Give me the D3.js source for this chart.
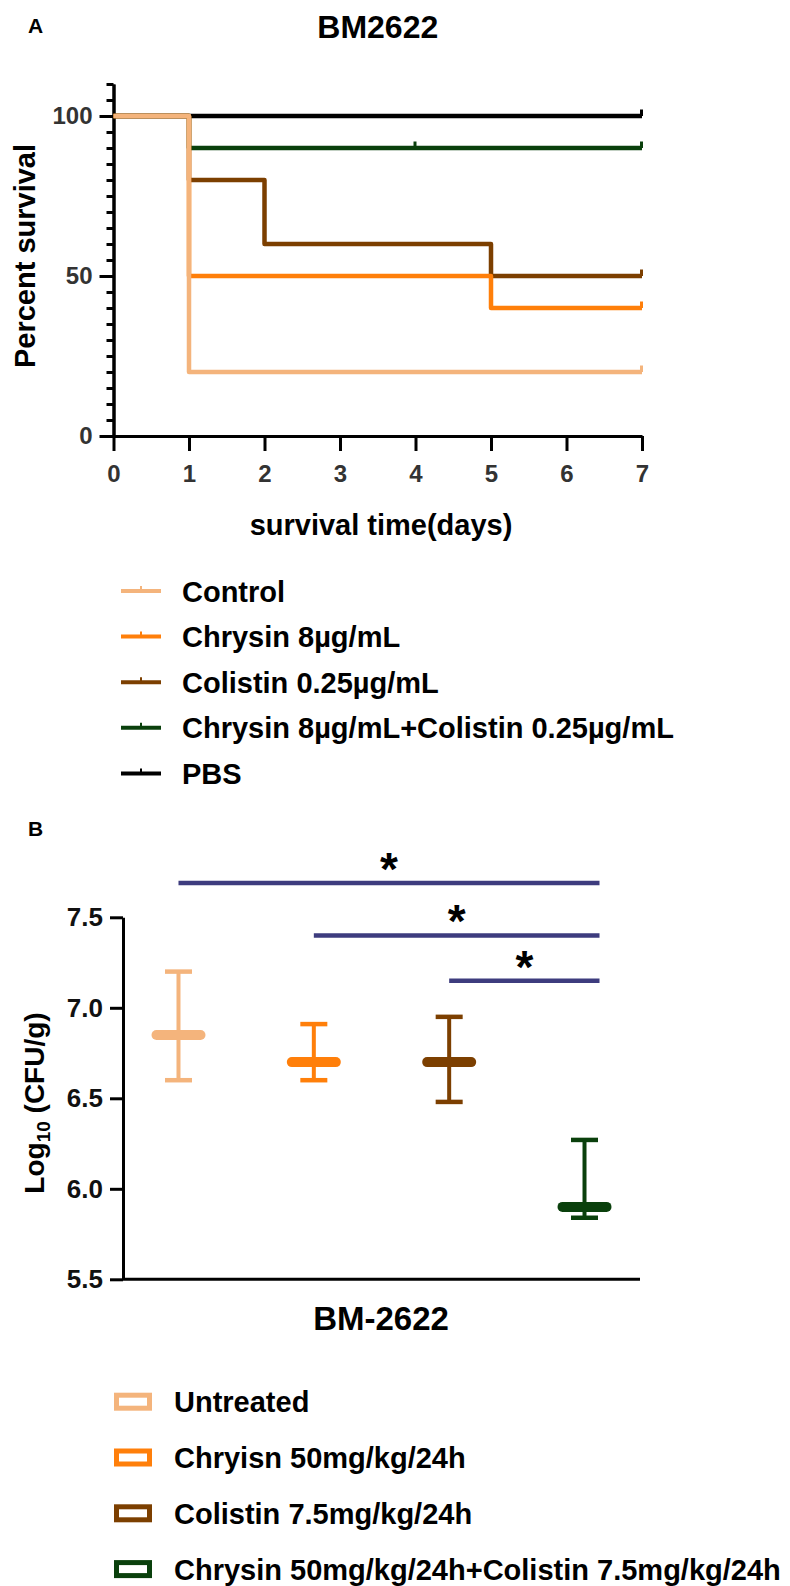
<!DOCTYPE html>
<html>
<head>
<meta charset="utf-8">
<script src="https://cdn.jsdelivr.net/npm/d3@7"></script>
<style>
  body { margin: 0; background: #fff; }
  text { font-family: "Liberation Sans", Arial, Helvetica, sans-serif; font-weight: bold; }
  .axis path, .axis line { stroke: #000; stroke-width: 3; }
</style>
</head>
<body>
<svg id="chart"></svg>
<script>
// ---- panel A : survival ----
const survivalGroups = ["Control", "Chrysin 8µg/mL", "Colistin 0.25µg/mL", "Chrysin 8µg/mL+Colistin 0.25µg/mL", "PBS"]
const survivalColors = ["#f4b47c", "#ff7f0a", "#7c3f00", "#0a400c", "#000000"]
// step points: day -> percent surviving from that day on
const survivalDays = [[0, 1, 7], [0, 1, 5, 7], [0, 1, 2, 5, 7], [0, 1, 7], [0, 7]]
const survivalPct = [[100, 20, 20], [100, 50, 40, 40], [100, 80, 60, 50, 50], [100, 90, 90], [100, 100]]
const censoredDays = [[7], [7], [7], [4, 7], [7]]
const dayTicks = [0, 1, 2, 3, 4, 5, 6, 7]
const pctMajorTicks = [0, 50, 100]

// ---- panel B : bacterial load ----
const loadGroups = ["Untreated", "Chryisn 50mg/kg/24h", "Colistin 7.5mg/kg/24h", "Chrysin 50mg/kg/24h+Colistin 7.5mg/kg/24h"]
const loadColors = ["#f4b47c", "#ff7f0a", "#7c3f00", "#0a400c"]
const loadMedian = [6.85, 6.70, 6.70, 5.90]
const loadMax = [7.20, 6.91, 6.95, 6.27]
const loadMin = [6.60, 6.60, 6.48, 5.84]
const loadTicks = [5.5, 6.0, 6.5, 7.0, 7.5]
const sigFrom = ["Untreated", "Chryisn 50mg/kg/24h", "Colistin 7.5mg/kg/24h"]
const sigTo = ["Chrysin 50mg/kg/24h+Colistin 7.5mg/kg/24h", "Chrysin 50mg/kg/24h+Colistin 7.5mg/kg/24h", "Chrysin 50mg/kg/24h+Colistin 7.5mg/kg/24h"]
const sigLevel = [7.69, 7.40, 7.15]
const sigLabel = ["*", "*", "*"]

const width = 790, height = 1586
const svg = d3.select("#chart").attr("width", width).attr("height", height)

//==================== A ====================
const a = { left: 113.5, right: 642, top: 84, bottom: 436 }
const x = d3.scaleLinear().domain([0, 7]).range([a.left, a.right])
const y = d3.scaleLinear().domain([0, 110]).range([a.bottom, a.top])

svg.append("text").attr("x", 28).attr("y", 33).attr("font-size", 21).text("A")
svg.append("text").attr("x", (a.left + a.right) / 2).attr("y", 38)
	.attr("text-anchor", "middle").attr("font-size", 32).text("BM2622")

// minor ticks every 5
svg.append("g").attr("class", "axis").attr("transform", `translate(${a.left},0)`)
	.call(d3.axisLeft(y).tickValues(d3.range(0, 111, 5)).tickSize(7).tickSizeOuter(0).tickFormat(""))
// major ticks
const yAxisA = svg.append("g").attr("class", "axis").attr("transform", `translate(${a.left},0)`)
	.call(d3.axisLeft(y).tickValues(pctMajorTicks).tickFormat(d3.format("d")).tickSize(14).tickPadding(7).tickSizeOuter(0))
yAxisA.attr("font-family", null)
yAxisA.selectAll("text").attr("font-size", 24).attr("fill", "#333")

const xAxisA = svg.append("g").attr("class", "axis").attr("transform", `translate(0,${a.bottom})`)
	.call(d3.axisBottom(x).tickValues(dayTicks).tickFormat(d3.format("d")).tickSize(15).tickPadding(14).tickSizeOuter(0))
xAxisA.attr("font-family", null)
xAxisA.selectAll("text").attr("font-size", 24).attr("fill", "#333")

svg.append("text").attr("transform", `translate(35,256) rotate(-90)`)
	.attr("text-anchor", "middle").attr("font-size", 29).text("Percent survival")
svg.append("text").attr("x", 381).attr("y", 535)
	.attr("text-anchor", "middle").attr("font-size", 29).text("survival time(days)")

const step = d3.line().x(d => x(d[0])).y(d => y(d[1])).curve(d3.curveStepAfter)
const curves = survivalGroups.map((g, i) => ({
	name: g,
	color: survivalColors[i],
	pts: survivalDays[i].map((t, j) => [t, survivalPct[i][j]]),
	censor: censoredDays[i],
}))
// draw PBS first, control last (on top)
const curveG = svg.append("g")
curves.slice().reverse().forEach(c => {
	curveG.append("path").attr("d", step(c.pts))
		.attr("fill", "none").attr("stroke", c.color)
		.attr("stroke-width", 4.5).attr("stroke-linejoin", "round")
	c.censor.forEach(t => {
		const v = c.pts.filter(p => p[0] <= t).pop()[1]
		curveG.append("line")
			.attr("x1", x(t) - 0.5).attr("x2", x(t) - 0.5)
			.attr("y1", y(v)).attr("y2", y(v) - 6.5)
			.attr("stroke", c.color).attr("stroke-width", 3)
	})
})

const legA = svg.append("g").selectAll("g").data(curves).join("g")
	.attr("transform", (d, i) => `translate(0,${591 + i * 45.6})`)
legA.append("line").attr("x1", 121).attr("x2", 161).attr("y1", 0).attr("y2", 0)
	.attr("stroke", d => d.color).attr("stroke-width", 4)
legA.append("line").attr("x1", 141).attr("x2", 141).attr("y1", 0).attr("y2", -5)
	.attr("stroke", d => d.color).attr("stroke-width", 2)
legA.append("text").attr("x", 182).attr("y", 10.5).attr("font-size", 29).text(d => d.name)

//==================== B ====================
const b = { left: 123, right: 640, top: 917.3, bottom: 1279.3 }
const xb = d3.scalePoint().domain(loadGroups).range([b.left, b.right]).padding(0.41)
const yb = d3.scaleLinear().domain([5.5, 7.5]).range([b.bottom, b.top])

svg.append("text").attr("x", 28).attr("y", 836).attr("font-size", 21).text("B")

const yAxisB = svg.append("g").attr("class", "axis").attr("transform", `translate(${b.left},0)`)
	.call(d3.axisLeft(yb).tickValues(loadTicks).tickFormat(d3.format(".1f")).tickSize(13).tickPadding(7).tickSizeOuter(0))
yAxisB.attr("font-family", null)
yAxisB.selectAll("text").attr("font-size", 26).attr("fill", "#111")
svg.append("line").attr("x1", b.left).attr("x2", b.right).attr("y1", b.bottom).attr("y2", b.bottom)
	.attr("stroke", "#000").attr("stroke-width", 3)

const logLabel = svg.append("text").attr("transform", `translate(44,1103) rotate(-90)`)
	.attr("text-anchor", "middle").attr("font-size", 28)
logLabel.append("tspan").text("Log")
logLabel.append("tspan").attr("font-size", 19).attr("dy", 6).text("10")
logLabel.append("tspan").attr("dy", -6).text(" (CFU/g)")

svg.append("text").attr("x", 381).attr("y", 1330)
	.attr("text-anchor", "middle").attr("font-size", 33).text("BM-2622")

const loads = loadGroups.map((g, i) => ({ name: g, color: loadColors[i], med: loadMedian[i], hi: loadMax[i], lo: loadMin[i] }))
const bars = svg.append("g").selectAll("g").data(loads).join("g")
bars.append("line").attr("x1", d => xb(d.name)).attr("x2", d => xb(d.name))
	.attr("y1", d => yb(d.hi)).attr("y2", d => yb(d.lo))
	.attr("stroke", d => d.color).attr("stroke-width", 4)
bars.selectAll(".cap").data(d => [[d, d.hi], [d, d.lo]]).join("line")
	.attr("x1", d => xb(d[0].name) - 13.5).attr("x2", d => xb(d[0].name) + 13.5)
	.attr("y1", d => yb(d[1])).attr("y2", d => yb(d[1]))
	.attr("stroke", d => d[0].color).attr("stroke-width", 4.5)
bars.append("line").attr("x1", d => xb(d.name) - 22).attr("x2", d => xb(d.name) + 22)
	.attr("y1", d => yb(d.med)).attr("y2", d => yb(d.med))
	.attr("stroke", d => d.color).attr("stroke-width", 10).attr("stroke-linecap", "round")

const sig = svg.append("g").selectAll("g").data(sigLevel.map((lv, i) => ({ a: sigFrom[i], b: sigTo[i], lv, label: sigLabel[i] }))).join("g")
sig.append("line").attr("x1", d => xb(d.a)).attr("x2", d => xb(d.b) + 15)
	.attr("y1", d => yb(d.lv)).attr("y2", d => yb(d.lv))
	.attr("stroke", "#3d3c7e").attr("stroke-width", 4.5)
sig.append("text").attr("x", d => (xb(d.a) + xb(d.b) + 15) / 2).attr("y", d => yb(d.lv) + 2)
	.attr("text-anchor", "middle").attr("font-size", 46).text(d => d.label)

const legB = svg.append("g").selectAll("g").data(loads).join("g")
	.attr("transform", (d, i) => `translate(0,${1401.7 + i * 55.8})`)
legB.append("rect").attr("x", 116.5).attr("y", -6.5).attr("width", 33).attr("height", 13)
	.attr("fill", "#fff").attr("stroke", d => d.color).attr("stroke-width", 5)
legB.append("text").attr("x", 174).attr("y", 10.5).attr("font-size", 29).text(d => d.name)
</script>
</body>
</html>
